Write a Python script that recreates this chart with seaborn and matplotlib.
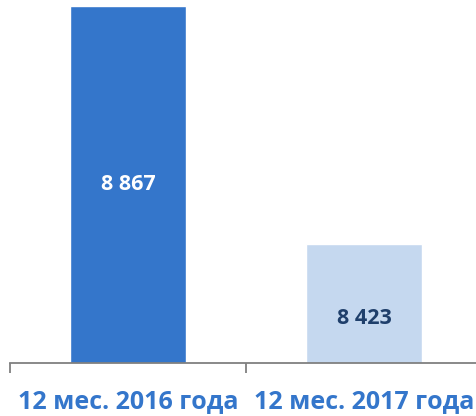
import matplotlib
matplotlib.use("Agg")
import matplotlib.pyplot as plt
import seaborn as sns
import pandas as pd

# data
periods = ["12 мес. 2016 года", "12 мес. 2017 года"]
values = [8867, 8423]
value_labels = ["8 867", "8 423"]
bar_colors = ["#3476CB", "#C5D8EF"]
label_colors = ["#FFFFFF", "#1F3F6B"]

sns.set_style("white")
plt.rcParams["font.family"] = ["Open Sans", "DejaVu Sans"]

df = pd.DataFrame({"period": periods, "value": values})

fig = plt.figure(figsize=(4.77, 4.16), dpi=100)
ax = fig.add_axes([10 / 477, (416 - 363) / 416, 472 / 477, 357 / 416])

sns.barplot(data=df, x="period", y="value", hue="period", palette=bar_colors,
            width=0.49, legend=False, ax=ax, saturation=1)

ymin = 8200
ax.set_ylim(ymin, values[0])
ax.set_xlim(-0.5, 1.5)

# value labels inside bars
offsets = [0, -11]
for i, (v, txt) in enumerate(zip(values, value_labels)):
    ax.annotate(txt, xy=(i, (ymin + v) / 2), xytext=(0, offsets[i]),
                textcoords="offset points", ha="center", va="center",
                fontsize=15.5, fontweight="bold", color=label_colors[i])

for s in ["top", "right", "left"]:
    ax.spines[s].set_visible(False)
ax.spines["bottom"].set_color("#808080")
ax.spines["bottom"].set_linewidth(1.3)

ax.set_yticks([])
ax.set_xlabel("")
ax.set_ylabel("")
ax.set_xticks([0, 1])
ax.set_xticklabels(periods, fontsize=18, fontweight="bold", color="#3476CB")
ax.tick_params(axis="x", which="major", bottom=True, length=0, pad=19)
ax.set_xticks([-0.5, 0.5], minor=True)
ax.tick_params(axis="x", which="minor", bottom=True, length=7, width=1.3, color="#808080")

fig.savefig("out.png", dpi=100)
